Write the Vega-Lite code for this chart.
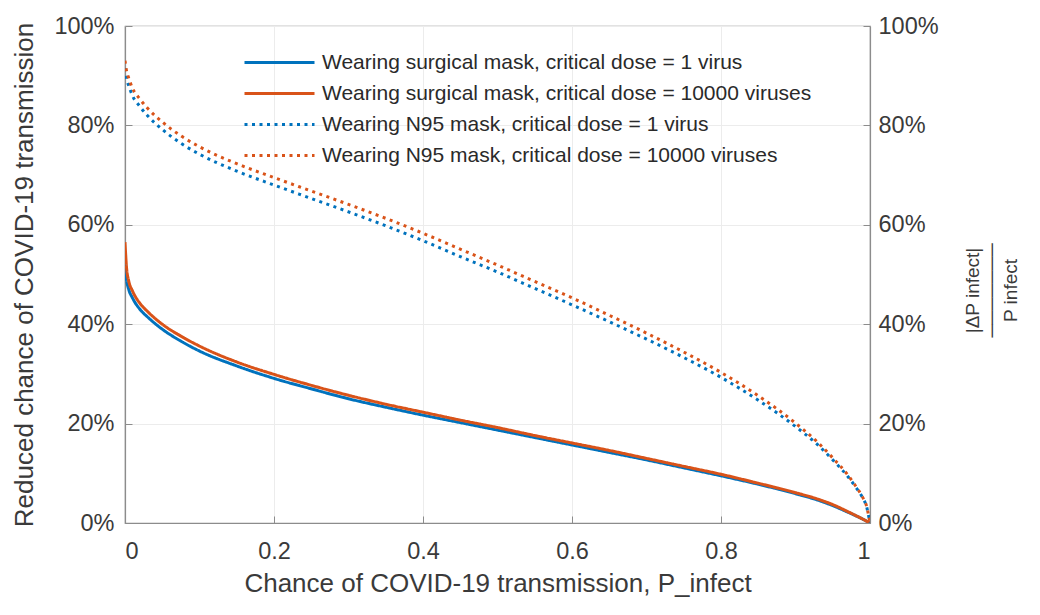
{
  "$schema": "https://vega.github.io/schema/vega-lite/v6.json",
  "width": 745,
  "height": 497,
  "autosize": {"type": "none"},
  "padding": {"left": 125, "top": 26, "right": 170, "bottom": 92},
  "background": "white",
  "config": {
    "font": "Liberation Sans",
    "view": {"stroke": "#8c8c8c", "strokeWidth": 1.2},
    "axis": {
      "labelFont": "Liberation Sans",
      "titleFont": "Liberation Sans",
      "labelColor": "#3a3a3a",
      "titleColor": "#3a3a3a",
      "labelFontSize": 23.5,
      "titleFontSize": 26,
      "titleFontWeight": "normal",
      "domainColor": "#8c8c8c",
      "domainWidth": 1.2,
      "tickColor": "#8c8c8c",
      "tickSize": -7,
      "gridColor": "#ececec",
      "gridWidth": 1
    }
  },
  "data": {
    "values": [
      {"p": 0, "r": 52, "series": "s1"}, {"p": 0.002, "r": 49, "series": "s1"}, {"p": 0.005, "r": 47, "series": "s1"}, {"p": 0.01, "r": 45.3, "series": "s1"}, {"p": 0.02, "r": 43, "series": "s1"}, {"p": 0.03, "r": 41.5, "series": "s1"}, {"p": 0.05, "r": 39, "series": "s1"}, {"p": 0.075, "r": 36.6, "series": "s1"}, {"p": 0.1, "r": 34.6, "series": "s1"}, {"p": 0.15, "r": 31.6, "series": "s1"}, {"p": 0.2, "r": 29.1, "series": "s1"}, {"p": 0.25, "r": 27, "series": "s1"}, {"p": 0.3, "r": 25, "series": "s1"}, {"p": 0.35, "r": 23.3, "series": "s1"}, {"p": 0.4, "r": 21.7, "series": "s1"}, {"p": 0.45, "r": 20.2, "series": "s1"}, {"p": 0.5, "r": 18.7, "series": "s1"}, {"p": 0.55, "r": 17.2, "series": "s1"}, {"p": 0.6, "r": 15.7, "series": "s1"}, {"p": 0.65, "r": 14.2, "series": "s1"}, {"p": 0.7, "r": 12.7, "series": "s1"}, {"p": 0.75, "r": 11.1, "series": "s1"}, {"p": 0.8, "r": 9.5, "series": "s1"}, {"p": 0.85, "r": 7.8, "series": "s1"}, {"p": 0.9, "r": 5.9, "series": "s1"}, {"p": 0.93, "r": 4.6, "series": "s1"}, {"p": 0.95, "r": 3.5, "series": "s1"}, {"p": 0.97, "r": 2.2, "series": "s1"}, {"p": 0.99, "r": 0.8, "series": "s1"}, {"p": 1, "r": 0, "series": "s1"},

      {"p": 0, "r": 56.5, "series": "s2"}, {"p": 0.002, "r": 51.5, "series": "s2"}, {"p": 0.005, "r": 48.7, "series": "s2"}, {"p": 0.01, "r": 46.7, "series": "s2"}, {"p": 0.02, "r": 44.2, "series": "s2"}, {"p": 0.03, "r": 42.6, "series": "s2"}, {"p": 0.05, "r": 40, "series": "s2"}, {"p": 0.075, "r": 37.6, "series": "s2"}, {"p": 0.1, "r": 35.6, "series": "s2"}, {"p": 0.15, "r": 32.4, "series": "s2"}, {"p": 0.2, "r": 29.9, "series": "s2"}, {"p": 0.25, "r": 27.7, "series": "s2"}, {"p": 0.3, "r": 25.7, "series": "s2"}, {"p": 0.35, "r": 23.9, "series": "s2"}, {"p": 0.4, "r": 22.3, "series": "s2"}, {"p": 0.45, "r": 20.7, "series": "s2"}, {"p": 0.5, "r": 19.2, "series": "s2"}, {"p": 0.55, "r": 17.6, "series": "s2"}, {"p": 0.6, "r": 16.1, "series": "s2"}, {"p": 0.65, "r": 14.6, "series": "s2"}, {"p": 0.7, "r": 13, "series": "s2"}, {"p": 0.75, "r": 11.4, "series": "s2"}, {"p": 0.8, "r": 9.8, "series": "s2"}, {"p": 0.85, "r": 8, "series": "s2"}, {"p": 0.9, "r": 6.1, "series": "s2"}, {"p": 0.93, "r": 4.8, "series": "s2"}, {"p": 0.95, "r": 3.7, "series": "s2"}, {"p": 0.97, "r": 2.3, "series": "s2"}, {"p": 0.99, "r": 0.8, "series": "s2"}, {"p": 1, "r": 0, "series": "s2"},

      {"p": 0, "r": 91.5, "series": "n1"}, {"p": 0.002, "r": 89.5, "series": "n1"}, {"p": 0.005, "r": 88, "series": "n1"}, {"p": 0.01, "r": 86, "series": "n1"}, {"p": 0.02, "r": 83.8, "series": "n1"}, {"p": 0.03, "r": 82, "series": "n1"}, {"p": 0.05, "r": 79.2, "series": "n1"}, {"p": 0.075, "r": 76.4, "series": "n1"}, {"p": 0.1, "r": 74.2, "series": "n1"}, {"p": 0.15, "r": 70.8, "series": "n1"}, {"p": 0.2, "r": 68, "series": "n1"}, {"p": 0.25, "r": 65.3, "series": "n1"}, {"p": 0.3, "r": 62.6, "series": "n1"}, {"p": 0.35, "r": 59.8, "series": "n1"}, {"p": 0.4, "r": 56.8, "series": "n1"}, {"p": 0.45, "r": 53.6, "series": "n1"}, {"p": 0.5, "r": 50.5, "series": "n1"}, {"p": 0.55, "r": 47.2, "series": "n1"}, {"p": 0.6, "r": 43.9, "series": "n1"}, {"p": 0.65, "r": 40.5, "series": "n1"}, {"p": 0.7, "r": 37, "series": "n1"}, {"p": 0.75, "r": 33.3, "series": "n1"}, {"p": 0.8, "r": 29.3, "series": "n1"}, {"p": 0.85, "r": 24.7, "series": "n1"}, {"p": 0.9, "r": 19.4, "series": "n1"}, {"p": 0.93, "r": 15.7, "series": "n1"}, {"p": 0.95, "r": 12.7, "series": "n1"}, {"p": 0.97, "r": 9.4, "series": "n1"}, {"p": 0.98, "r": 7.4, "series": "n1"}, {"p": 0.99, "r": 5.1, "series": "n1"}, {"p": 0.995, "r": 3.5, "series": "n1"}, {"p": 1, "r": 0, "series": "n1"},

      {"p": 0, "r": 93, "series": "n2"}, {"p": 0.002, "r": 91, "series": "n2"}, {"p": 0.005, "r": 89.5, "series": "n2"}, {"p": 0.01, "r": 87.5, "series": "n2"}, {"p": 0.02, "r": 85.3, "series": "n2"}, {"p": 0.03, "r": 83.5, "series": "n2"}, {"p": 0.05, "r": 80.7, "series": "n2"}, {"p": 0.075, "r": 77.9, "series": "n2"}, {"p": 0.1, "r": 75.7, "series": "n2"}, {"p": 0.15, "r": 72.3, "series": "n2"}, {"p": 0.2, "r": 69.5, "series": "n2"}, {"p": 0.25, "r": 66.8, "series": "n2"}, {"p": 0.3, "r": 64.1, "series": "n2"}, {"p": 0.35, "r": 61.3, "series": "n2"}, {"p": 0.4, "r": 58.3, "series": "n2"}, {"p": 0.45, "r": 55.1, "series": "n2"}, {"p": 0.5, "r": 51.9, "series": "n2"}, {"p": 0.55, "r": 48.6, "series": "n2"}, {"p": 0.6, "r": 45.3, "series": "n2"}, {"p": 0.65, "r": 41.8, "series": "n2"}, {"p": 0.7, "r": 38.2, "series": "n2"}, {"p": 0.75, "r": 34.4, "series": "n2"}, {"p": 0.8, "r": 30.3, "series": "n2"}, {"p": 0.85, "r": 25.6, "series": "n2"}, {"p": 0.9, "r": 20.1, "series": "n2"}, {"p": 0.93, "r": 16.2, "series": "n2"}, {"p": 0.95, "r": 13.1, "series": "n2"}, {"p": 0.97, "r": 9.7, "series": "n2"}, {"p": 0.98, "r": 7.6, "series": "n2"}, {"p": 0.99, "r": 5.2, "series": "n2"}, {"p": 0.995, "r": 3.6, "series": "n2"}, {"p": 1, "r": 0, "series": "n2"}
    ]
  },
  "transform": [
    {
      "lookup": "series",
      "from": {
        "data": {
          "values": [
            {"series": "s1", "label": "Wearing surgical mask, critical dose = 1 virus"},
            {"series": "s2", "label": "Wearing surgical mask, critical dose = 10000 viruses"},
            {"series": "n1", "label": "Wearing N95 mask, critical dose = 1 virus"},
            {"series": "n2", "label": "Wearing N95 mask, critical dose = 10000 viruses"}
          ]
        },
        "key": "series",
        "fields": ["label"]
      }
    }
  ],
  "layer": [
    {
      "mark": {"type": "line", "strokeWidth": 3, "interpolate": "monotone", "clip": true},
      "encoding": {
        "x": {
          "field": "p",
          "type": "quantitative",
          "scale": {"domain": [0, 1], "nice": false, "zero": false},
          "axis": {
            "values": [0, 0.2, 0.4, 0.6, 0.8, 1],
            "labelExpr": "datum.value == 0 ? '0' : datum.value == 1 ? '1' : format(datum.value, '.1f')",
            "grid": true,
            "labelPadding": 23,
            "title": "Chance of COVID-19 transmission, P_infect",
            "titlePadding": 8
          }
        },
        "y": {
          "field": "r",
          "type": "quantitative",
          "scale": {"domain": [0, 100], "nice": false},
          "axis": {
            "values": [0, 20, 40, 60, 80, 100],
            "labelExpr": "datum.value + '%'",
            "grid": true,
            "labelPadding": 18,
            "title": "Reduced chance of COVID-19 transmission",
            "titlePadding": 16
          }
        },
        "color": {
          "field": "label",
          "type": "nominal",
          "scale": {
            "domain": [
              "Wearing surgical mask, critical dose = 1 virus",
              "Wearing surgical mask, critical dose = 10000 viruses",
              "Wearing N95 mask, critical dose = 1 virus",
              "Wearing N95 mask, critical dose = 10000 viruses"
            ],
            "range": ["#0072BD", "#D95319", "#0072BD", "#D95319"]
          },
          "legend": {
            "title": null,
            "orient": "none",
            "legendX": 143,
            "legendY": 25,
            "symbolType": "M-3.5,0H3.5",
            "symbolSize": 400,
            "symbolStrokeWidth": 3,
            "labelFontSize": 21,
            "labelFont": "Liberation Sans",
            "labelColor": "#2a2a2a",
            "labelOffset": 31,
            "rowPadding": 9,
            "labelLimit": 700
          }
        },
        "strokeDash": {
          "field": "label",
          "type": "nominal",
          "scale": {
            "domain": [
              "Wearing surgical mask, critical dose = 1 virus",
              "Wearing surgical mask, critical dose = 10000 viruses",
              "Wearing N95 mask, critical dose = 1 virus",
              "Wearing N95 mask, critical dose = 10000 viruses"
            ],
            "range": [[1, 0], [1, 0], [3, 4.5], [3, 4.5]]
          },
          "legend": null
        },
        "order": {"field": "p", "type": "quantitative"}
      }
    },
    {
      "mark": {"type": "rule", "opacity": 0},
      "encoding": {
        "y": {
          "datum": 0,
          "type": "quantitative",
          "scale": {"domain": [0, 100], "nice": false},
          "axis": {
            "orient": "right",
            "values": [0, 20, 40, 60, 80, 100],
            "labelExpr": "datum.value + '%'",
            "grid": false,
            "labelPadding": 15,
            "title": ["|ΔP infect|", "───────", "P infect"],
            "titleAngle": 270,
            "titleFontSize": 19,
            "titleLineHeight": 19,
            "titlePadding": 6,
            "titleY": 264
          }
        }
      }
    }
  ],
  "resolve": {"scale": {"y": "independent"}}
}
